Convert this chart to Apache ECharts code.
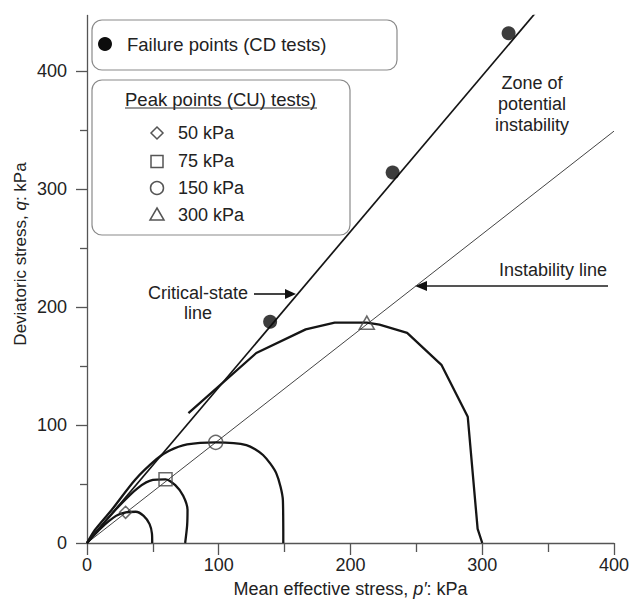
<!DOCTYPE html>
<html>
<head>
<meta charset="utf-8">
<script src="https://cdn.jsdelivr.net/npm/echarts@6/dist/echarts.min.js"></script>
<style>
  html, body { margin: 0; background: #fff; }
  #chart { width: 632px; height: 604px; }
</style>
</head>
<body>
<div id="chart"></div>
<script>
// axis ticks
const pTicks = [0, 100, 200, 300, 400];
const qTicks = [0, 100, 200, 300, 400];
const qMinorTicks = [50, 150, 250, 350];

// reference lines (p', q)
const criticalStateLine = [[0, 0], [341, 450]];
const instabilityLine = [[0, 0], [400, 349]];

// CD failure points
const failurePoints = [[139, 187.5], [232, 314], [320, 432]];

// CU peak points
const peak50 = [[29.3, 26]];
const peak75 = [[59.6, 54]];
const peak150 = [[97.7, 85.3]];
const peak300 = [[212.4, 186.7]];

// undrained stress paths
const path50 = [[49.5, 0], [49.3, 8], [47.5, 16], [43, 23], [37, 26.5], [29.3, 26], [22, 23], [11, 13], [0, 0]];
const path75 = [[74.5, 0], [76, 15], [76.3, 28], [73, 40], [67, 49], [59.6, 54], [50, 53.5], [39, 47], [24, 31], [9, 12], [0, 0]];
const path150 = [[149, 0], [148.7, 36], [143.7, 59], [133.6, 74.6], [121, 83], [97.7, 85.3], [76, 83.5], [62, 78], [52.7, 71], [36.4, 53.4], [18.7, 28], [6, 11], [0, 0]];
const path300 = [[300, 0], [296.5, 12], [289, 107], [269, 151], [243, 178], [222, 185], [212.4, 186.7], [188, 186.7], [166, 181], [128.5, 161], [77, 110]];

const FONT = 'Liberation Sans, Arial, sans-serif';
const TXT = '#222';
const AX = '#555';
const FS = 18;

const chart = echarts.init(document.getElementById('chart'), null, { renderer: 'svg' });

function pathSeries(data, smooth) {
  return {
    type: 'line', data: data, showSymbol: false, smooth: smooth, z: 3,
    lineStyle: { color: '#151515', width: 2.3 }, silent: true,
  };
}
function peakSeries(data, symbol, size) {
  return {
    type: 'scatter', data: data, symbol: symbol, symbolSize: size, z: 5,
    itemStyle: { color: 'rgba(255,255,255,0)', borderColor: '#444', borderWidth: 1.5 },
  };
}
function label(x, y, text, extra) {
  return Object.assign({ type: 'text', x: x, y: y, z: 11,
    style: Object.assign({ text: text, fontSize: FS, fontFamily: FONT, fill: TXT, verticalAlign: 'middle' }, extra || {}) });
}

chart.setOption({
  animation: false,
  grid: { left: 87, right: 17, top: 15.5, bottom: 61 },
  xAxis: {
    type: 'value', min: 0, max: 400, interval: 100,
    axisLine: { show: true, lineStyle: { color: AX, width: 1.3 } },
    axisTick: { show: true, length: 12, lineStyle: { color: AX, width: 1.3 } },
    minorTick: { show: true, splitNumber: 2, length: 9, lineStyle: { color: AX, width: 1.3 } },
    splitLine: { show: false },
    axisLabel: { fontSize: FS, color: TXT, fontFamily: FONT, margin: 13, customValues: pTicks },
    name: 'Mean effective stress, {i|p′}: kPa',
    nameLocation: 'middle', nameGap: 37,
    nameTextStyle: { fontSize: FS, color: TXT, fontFamily: FONT, rich: { i: { fontStyle: 'italic', fontSize: FS, fontFamily: FONT, color: TXT } } },
  },
  yAxis: [{
    type: 'value', min: 0, max: 447,
    axisLine: { show: true, lineStyle: { color: AX, width: 1.3 } },
    axisTick: { show: true, length: 11, customValues: qTicks, lineStyle: { color: AX, width: 1.3 } },
    splitLine: { show: false },
    axisLabel: { fontSize: FS, color: TXT, fontFamily: FONT, margin: 20, customValues: qTicks },
  }, {
    type: 'value', min: 0, max: 447, position: 'left', offset: 0,
    axisLine: { show: false },
    axisTick: { show: true, length: 7, customValues: qMinorTicks, lineStyle: { color: AX, width: 1.3 } },
    axisLabel: { show: false },
    splitLine: { show: false },
  }],
  series: [
    { type: 'line', data: instabilityLine, showSymbol: false, z: 2, lineStyle: { color: '#444', width: 1 } },
    { type: 'line', data: criticalStateLine, showSymbol: false, z: 2, lineStyle: { color: '#151515', width: 1.7 } },
    pathSeries(path50, 0.25),
    pathSeries(path75, 0.25),
    pathSeries(path150, 0.25),
    pathSeries(path300, false),
    { type: 'scatter', data: failurePoints, symbol: 'circle', symbolSize: 14, z: 6, itemStyle: { color: '#0d0d0d' } },
    peakSeries(peak50, 'diamond', 12),
    peakSeries(peak75, 'rect', 13),
    peakSeries(peak150, 'circle', 14),
    peakSeries(peak300, 'triangle', [15, 13]),
  ],
  graphic: [
    // y axis title
    { type: 'text', x: 20, y: 254, rotation: Math.PI / 2,
      style: { text: 'Deviatoric stress, {i|q}: kPa', fontSize: 17, fontFamily: FONT, fill: TXT, align: 'center', verticalAlign: 'middle',
        rich: { i: { fontStyle: 'italic', fontSize: 17, fontFamily: FONT, fill: TXT } } } },
    // legend box 1
    { type: 'rect', shape: { x: 92, y: 20, width: 305, height: 50, r: 10 }, style: { fill: '#fff', stroke: '#8a8a8a', lineWidth: 1.2 }, z: 10 },
    { type: 'circle', shape: { cx: 105, cy: 44, r: 7 }, style: { fill: '#0d0d0d' }, z: 11 },
    label(127, 44, 'Failure points (CD tests)', { fontSize: 18.5 }),
    // legend box 2
    { type: 'rect', shape: { x: 92, y: 80, width: 258, height: 155, r: 10 }, style: { fill: '#fff', stroke: '#8a8a8a', lineWidth: 1.2 }, z: 10 },
    label(125, 99, 'Peak points (CU) tests)', { fontSize: 18.5 }),
    { type: 'line', shape: { x1: 125, y1: 108, x2: 317, y2: 108 }, style: { stroke: '#333', lineWidth: 1 }, z: 11 },
    { type: 'polygon', shape: { points: [[157, 127], [163, 133], [157, 139], [151, 133]] }, style: { fill: 'none', stroke: '#555', lineWidth: 1.5 }, z: 11 },
    { type: 'rect', shape: { x: 151, y: 155.5, width: 12, height: 12 }, style: { fill: 'none', stroke: '#555', lineWidth: 1.5 }, z: 11 },
    { type: 'circle', shape: { cx: 157, cy: 188, r: 6.5 }, style: { fill: 'none', stroke: '#555', lineWidth: 1.5 }, z: 11 },
    { type: 'polygon', shape: { points: [[157, 208], [164, 220], [150, 220]] }, style: { fill: 'none', stroke: '#555', lineWidth: 1.5 }, z: 11 },
    label(178, 133, '50 kPa'),
    label(178, 161, '75 kPa'),
    label(178, 188, '150 kPa'),
    label(178, 215, '300 kPa'),
    // annotations
    label(532, 104, 'Zone of\npotential\ninstability', { lineHeight: 21, align: 'center' }),
    label(198, 303, 'Critical-state\nline', { lineHeight: 20, align: 'center' }),
    { type: 'line', shape: { x1: 254, y1: 294, x2: 288, y2: 294 }, style: { stroke: '#444', lineWidth: 2 } },
    { type: 'polygon', shape: { points: [[285, 289], [296, 294], [285, 299]] }, style: { fill: '#111' } },
    label(607, 270, 'Instability line', { align: 'right' }),
    { type: 'line', shape: { x1: 608, y1: 286, x2: 424, y2: 286 }, style: { stroke: '#555', lineWidth: 2 } },
    { type: 'polygon', shape: { points: [[415, 286], [427, 281], [427, 291]] }, style: { fill: '#111' } },
  ],
});
</script>
</body>
</html>
